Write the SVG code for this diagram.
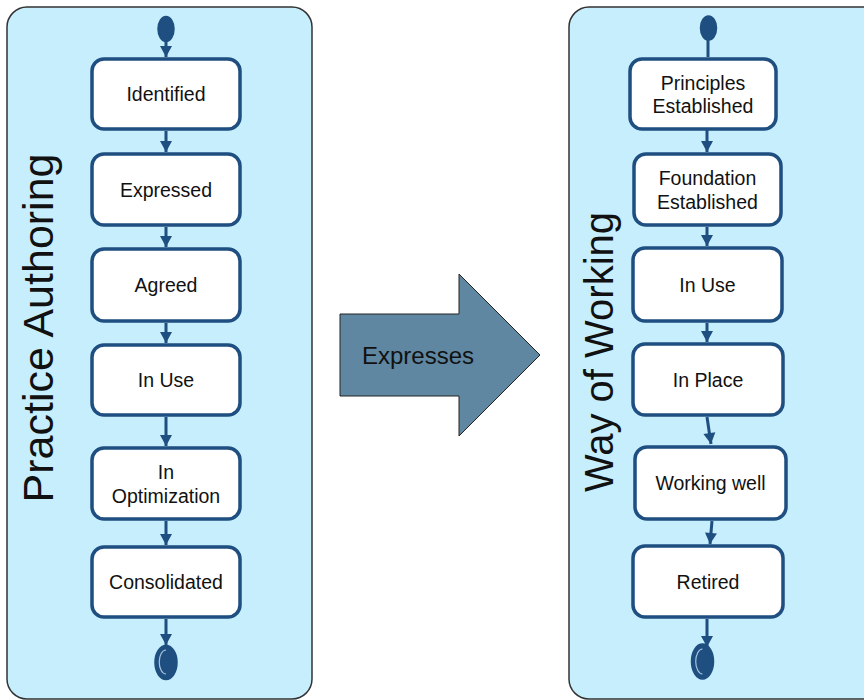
<svg xmlns="http://www.w3.org/2000/svg" width="864" height="700" viewBox="0 0 864 700">
  <defs>
    <style>
      .panel { fill: #C6EEFC; stroke: #333333; stroke-width: 1.5; }
      .node rect { fill: #FFFFFF; stroke: #1F4E80; stroke-width: 3.5; }
      .node text, .lbl { font-family: "Liberation Sans", Arial, sans-serif; font-size: 19.5px; fill: #111111; text-anchor: middle; }
      .title { font-family: "Liberation Sans", Arial, sans-serif; fill: #111111; text-anchor: middle; }
      .conn line { stroke: #1F4E80; stroke-width: 3; fill: none; }
      .state { fill: #1F4E80; stroke: #1F4E80; stroke-width: 1.5; }
    </style>
    <marker id="ah" markerUnits="userSpaceOnUse" markerWidth="14" markerHeight="14" viewBox="0 0 14 14" refX="12" refY="7" orient="auto">
      <path d="M1,1 L12,7 L1,13 Z" fill="#1F4E80"/>
    </marker>
  </defs>

  <!-- Panels -->
  <g id="panel-practice-authoring">
    <rect class="panel" x="7" y="7" width="305" height="692" rx="20" ry="20"/>
    <text class="title" font-size="43" transform="translate(53,328) rotate(-90)">Practice Authoring</text>
  </g>
  <g id="panel-way-of-working">
    <rect class="panel" x="569" y="7" width="320" height="692" rx="20" ry="20"/>
    <text class="title" font-size="40" transform="translate(613,352) rotate(-90)">Way of Working</text>
  </g>

  <!-- Big arrow -->
  <g id="expresses">
    <polygon points="340,314 459,314 459,274 540,355 459,436 459,396 340,396" fill="#5F87A1" stroke="#222222" stroke-width="1"/>
    <text x="362" y="364" font-family="Liberation Sans, Arial, sans-serif" font-size="24" fill="#111111">Expresses</text>
  </g>

  <!-- Connectors -->
  <g id="connectors" class="conn">
    <line x1="166" y1="42" x2="166" y2="57" marker-end="url(#ah)"/>
    <line x1="166" y1="131" x2="166" y2="152" marker-end="url(#ah)"/>
    <line x1="166" y1="227" x2="166" y2="247" marker-end="url(#ah)"/>
    <line x1="166" y1="323" x2="166" y2="343" marker-end="url(#ah)"/>
    <line x1="166" y1="417" x2="166" y2="446" marker-end="url(#ah)"/>
    <line x1="166" y1="521" x2="166" y2="545" marker-end="url(#ah)"/>
    <line x1="166" y1="619" x2="166" y2="645" marker-end="url(#ah)"/>

    <line x1="708" y1="40" x2="708" y2="57"/>
    <line x1="707" y1="130" x2="707" y2="152" marker-end="url(#ah)"/>
    <line x1="707" y1="227" x2="707" y2="246" marker-end="url(#ah)"/>
    <line x1="707" y1="323" x2="707" y2="342" marker-end="url(#ah)"/>
    <line x1="707" y1="417" x2="711" y2="444" marker-end="url(#ah)"/>
    <line x1="712" y1="521" x2="710" y2="544" marker-end="url(#ah)"/>
    <line x1="707" y1="619" x2="707" y2="647" marker-end="url(#ah)"/>
  </g>

  <!-- Left states -->
  <g id="pa-start"><ellipse class="state" cx="166" cy="29" rx="8" ry="12.5"/></g>
  <g id="pa-identified" class="node"><rect x="92" y="59" width="148" height="70" rx="12"/><text x="166" y="101">Identified</text></g>
  <g id="pa-expressed" class="node"><rect x="92" y="154" width="148" height="71" rx="12"/><text x="166" y="197">Expressed</text></g>
  <g id="pa-agreed" class="node"><rect x="92" y="249" width="148" height="72" rx="12"/><text x="166" y="292">Agreed</text></g>
  <g id="pa-in-use" class="node"><rect x="92" y="345" width="148" height="70" rx="12"/><text x="166" y="387">In Use</text></g>
  <g id="pa-in-optimization" class="node"><rect x="92" y="448" width="148" height="71" rx="12"/><text x="166" y="479">In</text><text x="166" y="503">Optimization</text></g>
  <g id="pa-consolidated" class="node"><rect x="92" y="547" width="148" height="70" rx="12"/><text x="166" y="589">Consolidated</text></g>
  <g id="pa-end">
    <ellipse class="state" cx="166" cy="662.5" rx="11" ry="17"/>
    <path d="M166,650 A6.5,11.5 0 0 0 166,674" fill="none" stroke="#A9C4DE" stroke-width="1.2"/>
  </g>

  <!-- Right states -->
  <g id="ww-start"><ellipse class="state" cx="708.5" cy="28" rx="8" ry="12"/></g>
  <g id="ww-principles" class="node"><rect x="630" y="59" width="146" height="70" rx="12"/><text x="703" y="89.5">Principles</text><text x="703" y="113">Established</text></g>
  <g id="ww-foundation" class="node"><rect x="634" y="154" width="147" height="71" rx="12"/><text x="707.5" y="185">Foundation</text><text x="707.5" y="209">Established</text></g>
  <g id="ww-in-use" class="node"><rect x="633" y="248" width="149" height="73" rx="12"/><text x="707.5" y="291.5">In Use</text></g>
  <g id="ww-in-place" class="node"><rect x="633" y="344" width="150" height="71" rx="12"/><text x="708" y="387">In Place</text></g>
  <g id="ww-working-well" class="node"><rect x="635" y="447" width="151" height="72" rx="12"/><text x="710.5" y="490">Working well</text></g>
  <g id="ww-retired" class="node"><rect x="633" y="546" width="150" height="71" rx="12"/><text x="708" y="589">Retired</text></g>
  <g id="ww-end">
    <ellipse class="state" cx="702.5" cy="661.5" rx="11" ry="17.5"/>
    <path d="M702.5,649 A6.5,12 0 0 0 702.5,674" fill="none" stroke="#A9C4DE" stroke-width="1.2"/>
  </g>
</svg>
